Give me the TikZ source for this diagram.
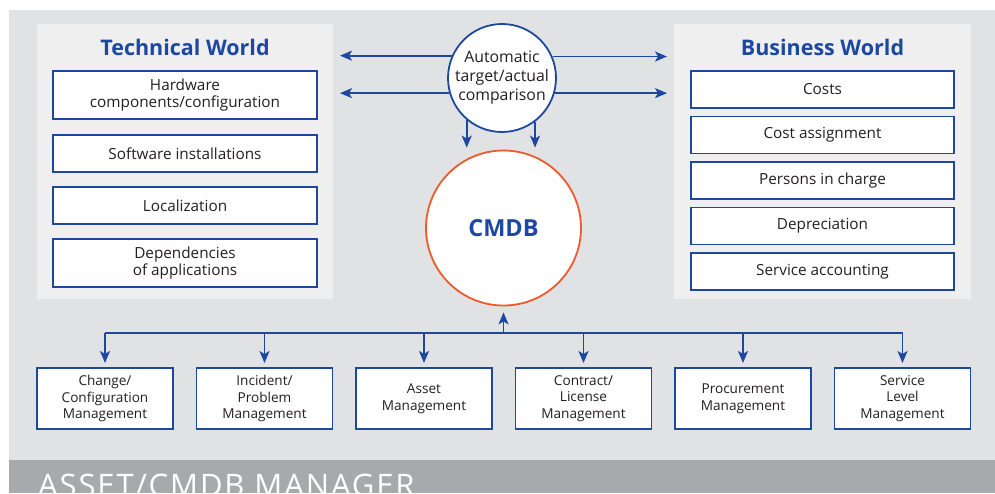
\documentclass[tikz,border=0pt]{standalone}
\usepackage{fontspec}
\setmainfont{Open Sans}
\usepackage{tikz}
\usetikzlibrary{arrows.meta,positioning}

\definecolor{linkblue}{HTML}{1D48A0}
\definecolor{cmdborange}{HTML}{EF5A2B}
\definecolor{bggrey}{HTML}{E1E2E4}
\definecolor{panelgrey}{HTML}{EFEFEF}
\definecolor{bandgrey}{HTML}{A8A9AC}
\definecolor{inkgrey}{HTML}{231F20}

\begin{document}
\begin{tikzpicture}[x=1pt,y=-1pt,>={Stealth[length=12pt,width=10pt,inset=3pt]},
 box/.style={draw=linkblue,line width=1.8pt,fill=white,outer sep=0pt,
 align=center,text=inkgrey,minimum height=37pt,inner sep=2pt,
 font=\fontsize{15.3}{17}\selectfont},
 wide/.style={box,minimum width=264pt},
 mgmt/.style={box,minimum width=136pt,minimum height=61pt,
 font=\fontsize{13.6}{16.7}\selectfont},
 panel/.style={fill=panelgrey,outer sep=0pt,inner sep=0pt},
 title/.style={text=linkblue,font=\fontsize{21.5}{24}\selectfont\bfseries},
 link/.style={draw=linkblue,line width=1.8pt}]
\useasboundingbox (0,0) rectangle (995,493);
\fill[bggrey] (9,10) rectangle (995,460);
\fill[bandgrey] (9,460) rectangle (995,493);
\node[anchor=base west,text=white,inner sep=0pt,
 font=\fontsize{31}{31}\selectfont\addfontfeature{LetterSpace=6}]
 (band) at (38,496) {ASSET/CMDB MANAGER};

% the two worlds
\node[panel,minimum width=296pt,minimum height=275pt] (tech) at (185,161.5) {};
\node[panel,minimum width=297pt,minimum height=275pt] (biz) at (822.5,161.5) {};
\node[title] (techt) at (185,47) {Technical World};
\node[title] (bizt) at (822.5,47) {Business World};

\node[wide,minimum height=48pt] (hw) at (185,95) {Hardware\\components/configuration};
\node[wide,below=16pt of hw] (sw) {Software installations};
\node[wide,below=15pt of sw] (loc) {Localization};
\node[wide,minimum height=48pt,below=15pt of loc] (dep) {Dependencies\\of applications};

\begin{scope}[node distance=8.5pt]
\node[box,minimum width=263pt] (costs) at (822.5,89.5) {Costs};
\node[box,minimum width=263pt,below=of costs] (assign) {Cost assignment};
\node[box,minimum width=263pt,below=of assign] (persons) {Persons in charge};
\node[box,minimum width=263pt,below=of persons] (deprec) {Depreciation};
\node[box,minimum width=263pt,below=of deprec] (account) {Service accounting};
\end{scope}

% comparison and CMDB
\node[circle,draw=linkblue,line width=1.8pt,fill=white,minimum size=108pt,
 inner sep=0pt,align=center,text=inkgrey,font=\fontsize{15.8}{19}\selectfont]
 (auto) at (502,78) {Automatic\\target/actual\\comparison};
\node[circle,draw=cmdborange,line width=1.8pt,fill=white,minimum size=155pt,
 inner sep=0pt,text=linkblue,font=\fontsize{23.5}{26}\selectfont\bfseries]
 (cmdb) at (503.5,228) {CMDB};

\draw[link,->,shorten >=7pt] (auto.156.4) -- (auto.156.4 -| tech.east);
\draw[link,->,shorten >=7pt] (auto.196.9) -- (auto.196.9 -| tech.east);
\draw[link,->,shorten >=7pt] (auto.23.6) -- (auto.23.6 -| biz.west);
\draw[link,->,shorten >=7pt] (auto.-16.9) -- (auto.-16.9 -| biz.west);
\draw[link,->,shorten >=2pt] (auto.230.5) -- (auto.230.5 |- cmdb.north);
\draw[link,->,shorten >=2pt] (auto.-53.1) -- (auto.-53.1 |- cmdb.north);

% processes
\begin{scope}[node distance=23.5pt]
\node[mgmt] (change) at (105,398.5) {Change/\\Configuration\\Management};
\node[mgmt,right=of change] (incident) {Incident/\\Problem\\Management};
\node[mgmt,right=of incident] (asset) {Asset\\Management};
\node[mgmt,right=of asset] (contract) {Contract/\\License\\Management};
\node[mgmt,right=of contract] (procure) {Procurement\\Management};
\node[mgmt,right=of procure] (service) {Service\\Level\\Management};
\end{scope}

\coordinate (bus) at (0,333);
\draw[link] (change.north |- bus) -- (service.north |- bus);
\draw[link,->,shorten >=6pt] (cmdb.south |- bus) -- (cmdb.south);
\foreach \p in {change,incident,asset,contract,procure,service}
 \draw[link,->,shorten >=5pt] (\p.north |- bus) -- (\p.north);
\end{tikzpicture}
\end{document}
